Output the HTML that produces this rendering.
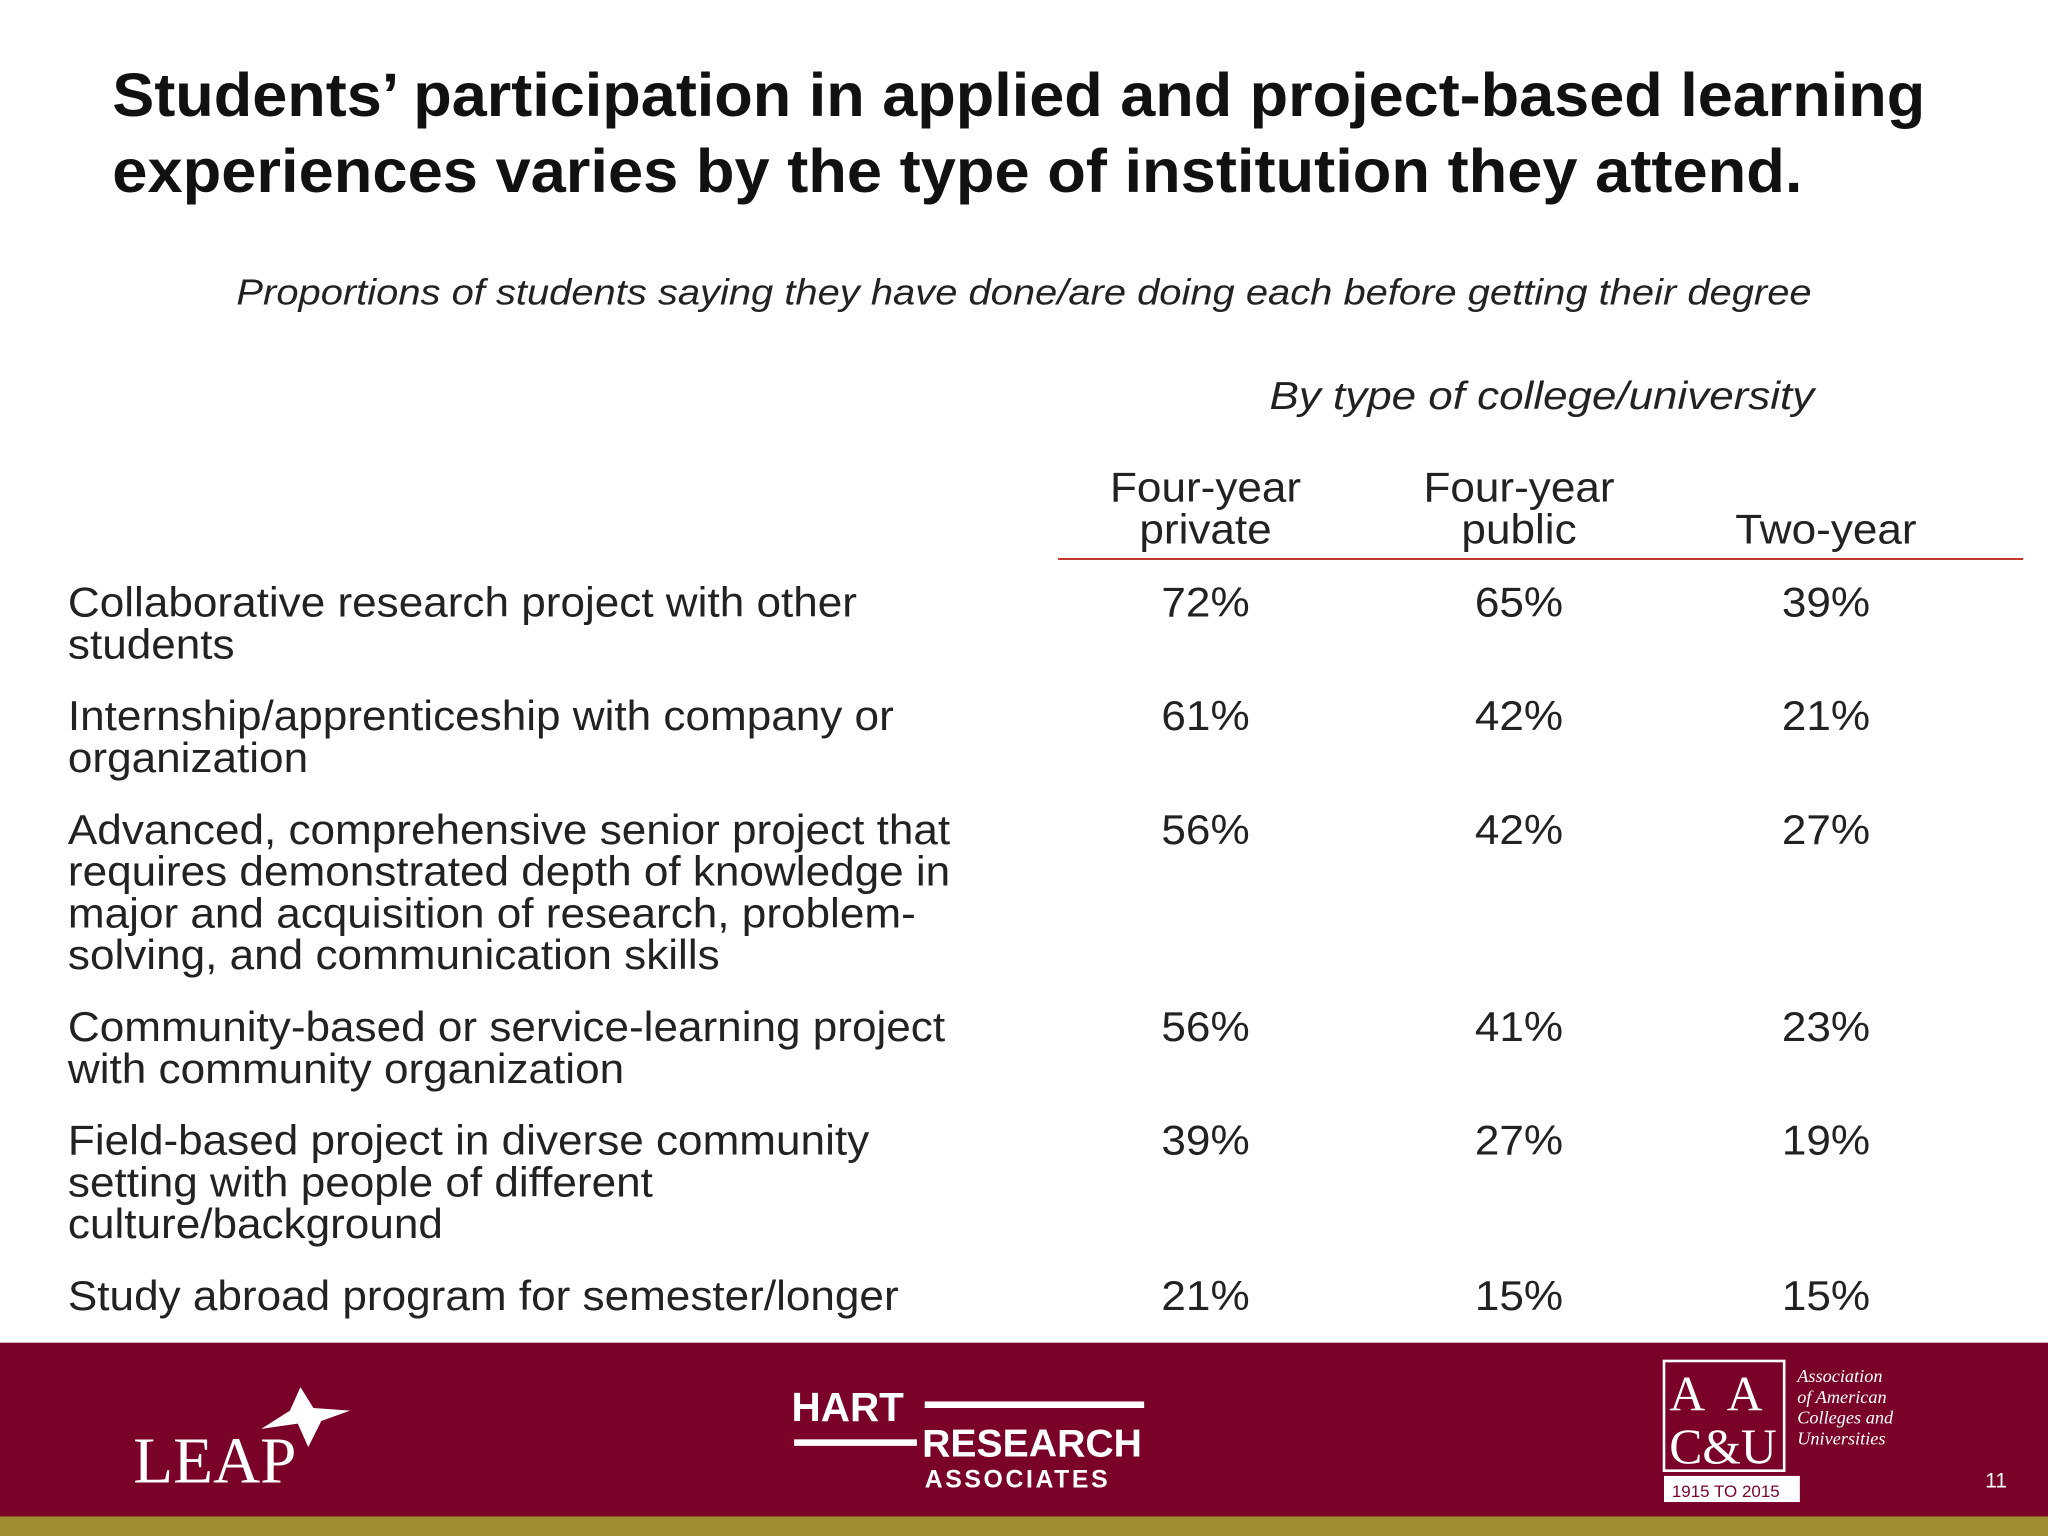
<!DOCTYPE html>
<html><head><meta charset="utf-8"><style>
html,body{margin:0;padding:0;background:#fff}
svg{display:block}
</style></head><body>
<svg id="slide" width="2048" height="1536" viewBox="0 0 1568 1176" xmlns="http://www.w3.org/2000/svg" font-family="Liberation Sans, Arial, sans-serif">
<rect width="1568" height="1176" fill="#fff"/>
<g font-weight="bold" font-size="47" fill="#111">
<text x="86" y="89" textLength="1388" lengthAdjust="spacingAndGlyphs">Students’ participation in applied and project-based learning</text>
<text x="86" y="147" textLength="1294" lengthAdjust="spacingAndGlyphs">experiences varies by the type of institution they attend.</text>
</g>
<text x="181" y="233" font-size="28" font-style="italic" fill="#222" textLength="1206" lengthAdjust="spacingAndGlyphs">Proportions of students saying they have done/are doing each before getting their degree</text>
<text x="972" y="313" font-size="30" font-style="italic" fill="#222" textLength="417" lengthAdjust="spacingAndGlyphs">By type of college/university</text>
<g id="headers" font-size="32" fill="#222" text-anchor="middle"></g>
<line x1="810" y1="428" x2="1549" y2="428" stroke="#c0392b" stroke-width="1.5"/>
<g id="rows" font-size="32" fill="#222"></g>
<rect x="0" y="1028" width="1568" height="134" fill="#7a0228"/>
<rect x="0" y="1161" width="1568" height="15" fill="#9e8c30"/>
<g fill="#fff">
<text x="102" y="1135" font-family="Liberation Serif, serif" font-size="50">LEAP</text>
<polygon points="230,1062 240,1078 268,1080 246,1088 236,1108 228,1090 200,1094 222,1080" fill="#fff"/>
</g>
<g fill="#fff" font-weight="bold">
<text x="606" y="1088" font-size="31">HART</text>
<rect x="708" y="1073" width="168" height="5"/>
<rect x="608" y="1102" width="94" height="5"/>
<text x="706" y="1115" font-size="30">RESEARCH</text>
<text x="708" y="1139" font-size="19" letter-spacing="2">ASSOCIATES</text>
</g>
<g fill="#fff">
<rect x="1274" y="1042" width="92" height="84" fill="none" stroke="#fff" stroke-width="2"/>
<text x="1278" y="1080" font-family="Liberation Serif, serif" font-size="38">A</text>
<text x="1322" y="1080" font-family="Liberation Serif, serif" font-size="38">A</text>
<text x="1278" y="1120" font-family="Liberation Serif, serif" font-size="38">C&amp;U</text>
<rect x="1274" y="1130" width="104" height="20" fill="#fff"/>
<text x="1280" y="1146" font-size="13" fill="#7a0228">1915 TO 2015</text>
<g font-family="Liberation Serif, serif" font-style="italic" font-size="14">
<text x="1376" y="1058">Association</text><text x="1376" y="1074">of American</text><text x="1376" y="1090">Colleges and</text><text x="1376" y="1106">Universities</text></g>
</g>
<text x="1520" y="1139" font-size="16" fill="#fff">11</text>
</svg>
<script>
const columns = [["Four-year","private"],["Four-year","public"],["","Two-year"]];
const categories = [
 ["Collaborative research project with other","students"],
 ["Internship/apprenticeship with company or","organization"],
 ["Advanced, comprehensive senior project that","requires demonstrated depth of knowledge in","major and acquisition of research, problem-","solving, and communication skills"],
 ["Community-based or service-learning project","with community organization"],
 ["Field-based project in diverse community","setting with people of different","culture/background"],
 ["Study abroad program for semester/longer"]
];
const privateVals = [72,61,56,56,39,21];
const publicVals = [65,42,42,41,27,15];
const twoYearVals = [39,21,27,23,19,15];
const NS="http://www.w3.org/2000/svg";
const colX=[923,1163,1398];
const SX=1.055;
function stretch(e,x){e.setAttribute('transform','translate('+x+',0) scale('+SX+',1) translate('+(-x)+',0)');}
const hg=document.getElementById('headers');
columns.forEach((c,i)=>{
 c.forEach((t,j)=>{ if(!t)return;
  const e=document.createElementNS(NS,'text');
  
  
  e.setAttribute('x',colX[i]);e.setAttribute('y',384+j*32);stretch(e,colX[i]);e.textContent=t;hg.appendChild(e);});
});
const rg=document.getElementById('rows');
const series=[privateVals,publicVals,twoYearVals];
let y=472;
categories.forEach((lines,r)=>{
 lines.forEach((t,j)=>{
  const e=document.createElementNS(NS,'text');
  
  
  e.setAttribute('x',52);e.setAttribute('y',y+j*32);stretch(e,52);e.textContent=t;rg.appendChild(e);});
 series.forEach((s,i)=>{
  const e=document.createElementNS(NS,'text');
  
  
  e.setAttribute('x',colX[i]);e.setAttribute('y',y);e.setAttribute('text-anchor','middle');stretch(e,colX[i]);
  e.textContent=s[r]+'%';rg.appendChild(e);});
 y+= (lines.length-1)*32 + 55;
});
</script>
</body></html>
